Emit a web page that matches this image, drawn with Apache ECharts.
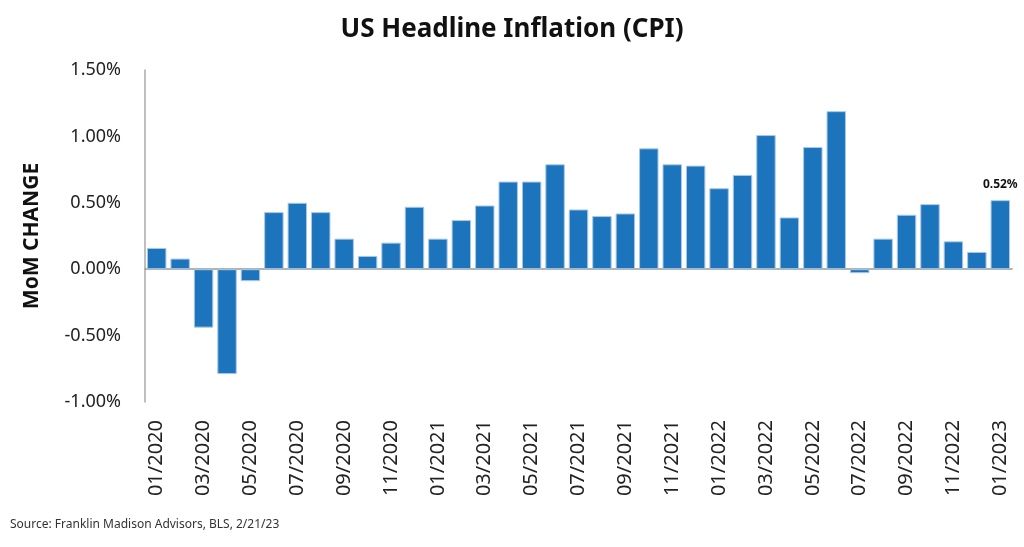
<!DOCTYPE html>
<html>
<head>
<meta charset="utf-8">
<script src="https://cdn.jsdelivr.net/npm/echarts@6/dist/echarts.min.js"></script>
<style>
html,body{margin:0;padding:0;background:#fff;}
#chart{width:1024px;height:547px;}
</style>
</head>
<body>
<div id="chart"></div>
<script>
const categories = [
  "01/2020","02/2020","03/2020","04/2020","05/2020","06/2020","07/2020","08/2020","09/2020","10/2020","11/2020","12/2020",
  "01/2021","02/2021","03/2021","04/2021","05/2021","06/2021","07/2021","08/2021","09/2021","10/2021","11/2021","12/2021",
  "01/2022","02/2022","03/2022","04/2022","05/2022","06/2022","07/2022","08/2022","09/2022","10/2022","11/2022","12/2022",
  "01/2023"
];
const momChange = [
  0.16, 0.08, -0.44, -0.79, -0.09, 0.43, 0.50, 0.43, 0.23, 0.10, 0.20, 0.47,
  0.23, 0.37, 0.48, 0.66, 0.66, 0.79, 0.45, 0.40, 0.42, 0.91, 0.79, 0.78,
  0.61, 0.71, 1.01, 0.39, 0.92, 1.19, -0.03, 0.23, 0.41, 0.49, 0.21, 0.13,
  0.52
];
const yTicks = { min: -1.0, max: 1.5, interval: 0.5 };
const labelledIndex = momChange.length - 1;

const font = "'Noto Sans', 'Open Sans', sans-serif";
const chart = echarts.init(document.getElementById('chart'));
chart.setOption({
  animation: false,
  title: {
    text: 'US Headline Inflation (CPI)',
    left: 'center',
    top: 12,
    textStyle: { fontFamily: font, fontWeight: 'bold', fontSize: 26, color: '#111' }
  },
  graphic: [{
    type: 'text',
    left: 10,
    top: 519,
    style: { text: 'Source: Franklin Madison Advisors, BLS, 2/21/23', font: '12px ' + font, fill: '#333' }
  }],
  grid: { left: 145, right: 12, top: 70, bottom: 145 },
  xAxis: {
    type: 'category',
    data: categories,
    axisLine: { onZero: true, lineStyle: { color: '#999', width: 1.5 } },
    axisTick: { show: false },
    axisLabel: {
      interval: 1,
      rotate: 90,
      fontFamily: font,
      fontSize: 20,
      color: '#222',
      margin: 18,
      formatter: v => v
    }
  },
  yAxis: {
    type: 'value',
    min: yTicks.min,
    max: yTicks.max,
    interval: yTicks.interval,
    name: 'MoM CHANGE',
    nameLocation: 'middle',
    nameGap: 102,
    nameTextStyle: { fontFamily: font, fontWeight: 'bold', fontSize: 21, color: '#111' },
    axisLine: { show: true, lineStyle: { color: '#aaa', width: 1.5 } },
    axisTick: { show: false },
    splitLine: { show: false },
    axisLabel: {
      fontFamily: font,
      fontSize: 18,
      color: '#222',
      margin: 24,
      formatter: v => v.toFixed(2) + '%'
    }
  },
  series: [{
    type: 'bar',
    barCategoryGap: '17%',
    data: momChange.map((v, i) => ({
      value: v,
      label: i === labelledIndex ? {
        show: true,
        position: 'top',
        distance: 10,
        formatter: p => p.value.toFixed(2) + '%',
        fontFamily: font,
        fontWeight: 'bold',
        fontSize: 12,
        color: '#111'
      } : { show: false }
    })),
    itemStyle: { color: '#1c75bc', borderColor: '#a9c9e6', borderWidth: 1 }
  }]
});
</script>
</body>
</html>
